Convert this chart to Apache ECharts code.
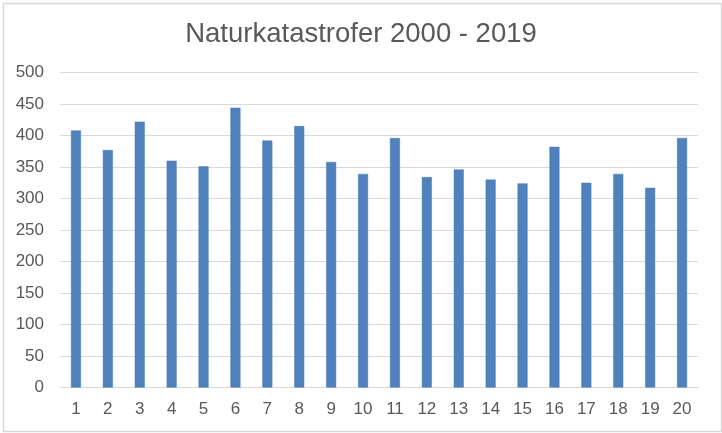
<!DOCTYPE html>
<html>
<head>
<meta charset="utf-8">
<script src="https://cdn.jsdelivr.net/npm/echarts@6/dist/echarts.min.js"></script>
<style>html,body{margin:0;padding:0;background:#fff;}#c{width:722px;height:433px;}</style>
</head>
<body>
<div id="c"></div>
<script>
const titleText = "Naturkatastrofer 2000 - 2019";
const categories = ["1","2","3","4","5","6","7","8","9","10","11","12","13","14","15","16","17","18","19","20"];
const values = [408, 377, 422, 360, 351, 444, 392, 415, 358, 339, 396, 334, 346, 330, 324, 382, 325, 339, 317, 396];

const chart = echarts.init(document.getElementById('c'), null, {renderer: 'canvas'});
chart.setOption({
  backgroundColor: '#ffffff',
  animation: false,
  graphic: [{
    type: 'rect', left: 1, top: 1, shape: {width: 718, height: 428},
    style: {fill: 'none', stroke: '#d9d9d9', lineWidth: 1.5}, silent: true
  }],
  title: {
    text: titleText, left: 'center', top: 15,
    textStyle: {fontFamily: 'Liberation Sans, Arial, sans-serif', fontSize: 27.5, fontWeight: 'normal', color: '#595959'}
  },
  grid: {left: 60, right: 24, top: 72.5, bottom: 45.5, containLabel: false},
  xAxis: {
    type: 'category', data: categories,
    axisLine: {show: true, lineStyle: {color: '#d9d9d9', width: 1}},
    axisTick: {show: false},
    axisLabel: {color: '#595959', fontSize: 17, fontFamily: 'Liberation Sans, Arial, sans-serif', margin: 13}
  },
  yAxis: {
    type: 'value', min: 0, max: 500, interval: 50,
    axisLine: {show: false}, axisTick: {show: false},
    splitLine: {lineStyle: {color: '#d9d9d9', width: 1}},
    axisLabel: {color: '#595959', fontSize: 17, fontFamily: 'Liberation Sans, Arial, sans-serif', margin: 16}
  },
  series: [{
    type: 'bar', data: values, barWidth: 10,
    itemStyle: {color: '#4F81BD', borderColor: '#4a7ab4', borderWidth: 0.5}
  }]
});
</script>
</body>
</html>
